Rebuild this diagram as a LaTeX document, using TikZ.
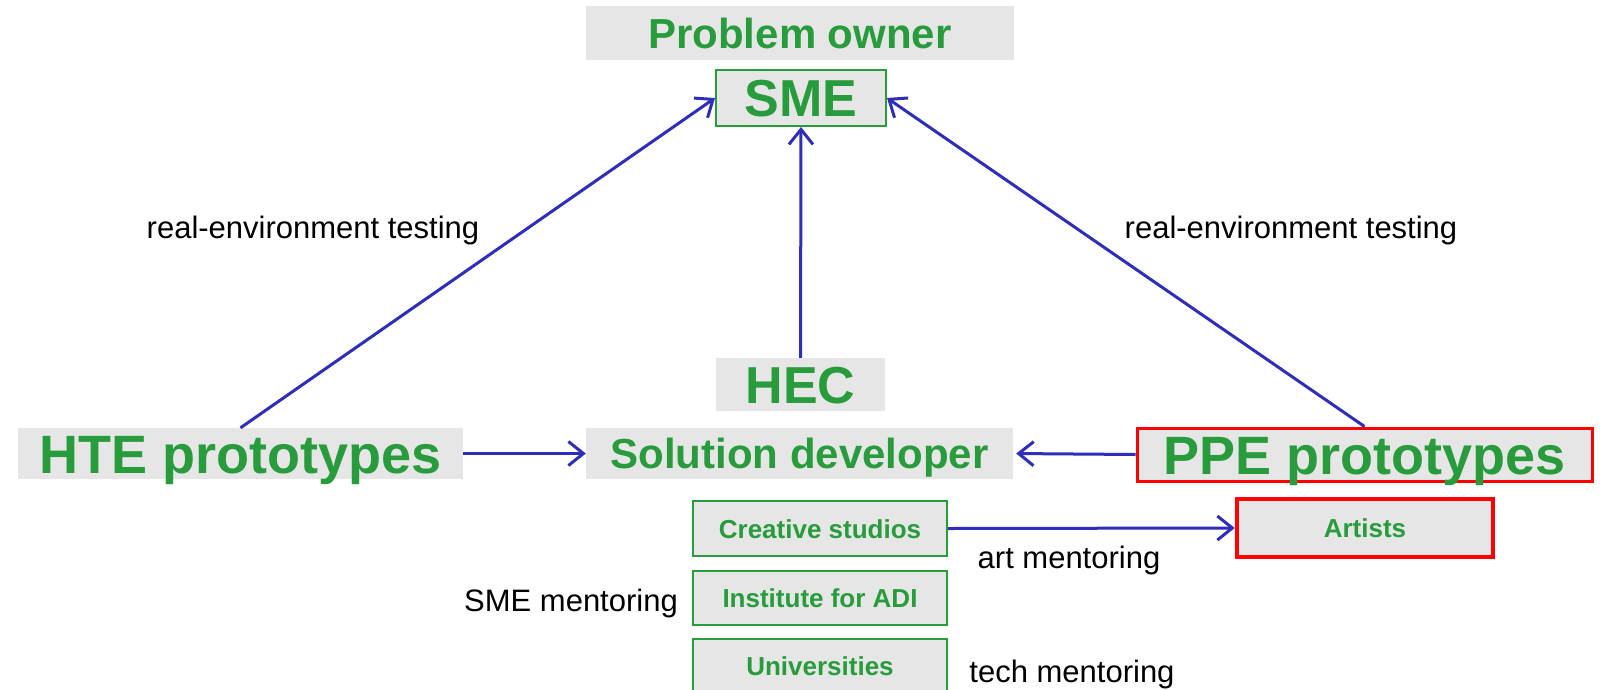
\documentclass[tikz,border=0pt]{standalone}
\usepackage{fontspec}
\setmainfont{Liberation Sans}
\usetikzlibrary{arrows.meta}
\definecolor{tgreen}{RGB}{40,155,60}
\definecolor{tblue}{RGB}{46,46,184}
\definecolor{tred}{RGB}{255,0,0}
\definecolor{tgray}{RGB}{230,230,230}
\newcommand{\fs}[1]{\fontsize{#1}{#1}\selectfont}
\tikzset{
  box/.style={fill=tgray, text=tgreen, inner sep=0pt, font=\bfseries, text depth=0pt, align=center},
  gbox/.style={box, draw=tgreen, line width=2pt},
  rbox/.style={box, draw=tred, line width=3pt},
  lbl/.style={inner sep=0pt, text=black},
  conn/.style={draw=tblue, line width=3pt, -{Straight Barb[length=15pt,width=24pt]}},
}
\begin{document}
\begin{tikzpicture}[x=1pt,y=-1pt]
\useasboundingbox (0,0) rectangle (1604,689);
\clip (0,0) rectangle (1604,689);
\fill[white] (0,0) rectangle (1604,689);
% nodes
\node[box, minimum width=428pt, minimum height=54pt, text height=30pt, font=\bfseries\fs{42}] (po) at (800,33) {Problem owner};
\node[gbox, minimum width=170pt, minimum height=56pt, text height=37pt, font=\bfseries\fs{52}] (sme) at (801,98) {SME};
\node[box, minimum width=169pt, minimum height=53pt, text height=37pt, font=\bfseries\fs{52}] (hec) at (800.5,384.5) {HEC};
\node[box, minimum width=445pt, minimum height=51pt, text height=39pt, font=\bfseries\fs{54}] (hte) at (240.5,453.5) {HTE prototypes};
\node[box, minimum width=427pt, minimum height=51pt, text height=30pt, font=\bfseries\fs{42}] (sd) at (799.5,453.5) {Solution developer};
\node[rbox, minimum width=455pt, minimum height=53pt, text height=39pt, font=\bfseries\fs{54}] (ppe) at (1364.5,454.5) {PPE prototypes};
\node[gbox, minimum width=254pt, minimum height=55pt, text height=19pt, font=\bfseries\fs{26}] (cs) at (820,528.5) {Creative studios};
\node[gbox, minimum width=254pt, minimum height=54pt, text height=19pt, font=\bfseries\fs{26}] (ia) at (820,598) {Institute for ADI};
\node[gbox, minimum width=254pt, minimum height=54pt, text height=19pt, font=\bfseries\fs{26}] (un) at (820,666) {Universities};
\node[box, draw=tred, line width=4.5pt, minimum width=256pt, minimum height=58pt, text height=19pt, font=\bfseries\fs{26}] (ar) at (1365,528) {Artists};
% labels
\node[lbl, font=\fs{31}] (l1) at (313,230) {real-environment testing};
\node[lbl, font=\fs{31}] (l2) at (1291,230) {real-environment testing};
\node[lbl, font=\fs{31}] (l3) at (571,603) {SME mentoring};
\node[lbl, font=\fs{31}] (l4) at (1069,560) {art mentoring};
\node[lbl, font=\fs{31}] (l5) at (1072,674) {tech mentoring};
% connectors
\draw[conn] (hte.north) -- (sme.west);
\draw[conn] (hec.north) -- (sme.south);
\draw[conn] (ppe.north) -- (sme.east);
\draw[conn] (hte.east) -- (sd.west);
\draw[conn, shorten >=3pt] (ppe.west) -- (sd.east);
\draw[conn] (cs.east) -- (ar.west);
\end{tikzpicture}
\end{document}
